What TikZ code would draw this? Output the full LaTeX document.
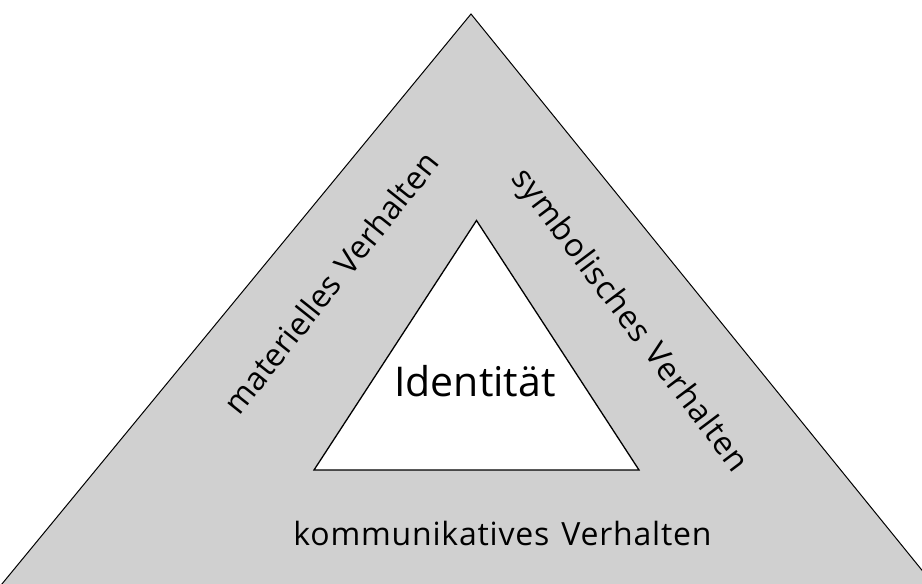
\documentclass[tikz,border=0pt]{standalone}
\usepackage{fontspec}
\setmainfont{Open Sans}
\newfontfamily\spacedfont[LetterSpace=2.5,WordSpace=1.3]{Open Sans}
\newfontfamily\lessspacedfont[LetterSpace=0.5,WordSpace=1.3]{Open Sans}
\definecolor{bandgray}{HTML}{D0D0D0}
\tikzset{
  label/.style={inner sep=0pt, font=\spacedfont\fontsize{32}{32}\selectfont, text=black},
  tri/.style={draw=black},
}
\begin{document}
\begin{tikzpicture}[x=1pt,y=1pt]
\useasboundingbox (0,0) rectangle (922,584);
\begin{scope}
\clip (0,0) rectangle (922,584);
\path[tri, fill=bandgray, line width=1pt] (471,570) -- (-3,-6) -- (938,-6) -- cycle;
\end{scope}
\coordinate (ia) at (476.5,363.5);
\coordinate (il) at (314,114);
\coordinate (ir) at (639,114);
\path[tri, fill=white, line width=1.3pt] (ia) -- (il) -- (ir) -- cycle;
\node[inner sep=0pt, font=\fontsize{41}{41}\selectfont, anchor=base] (id) at (475,187) {Identität};
\node[label, anchor=base] (kv) at (502.5,38) {kommunikatives Verhalten};
\node[label, font=\lessspacedfont\fontsize{32}{32}\selectfont, anchor=base, rotate=51.5] (mv) at (340,294) {materielles Verhalten};
\node[label, anchor=base, rotate=-53] (sv) at (622,258) {symbolisches Verhalten};
\end{tikzpicture}
\end{document}
